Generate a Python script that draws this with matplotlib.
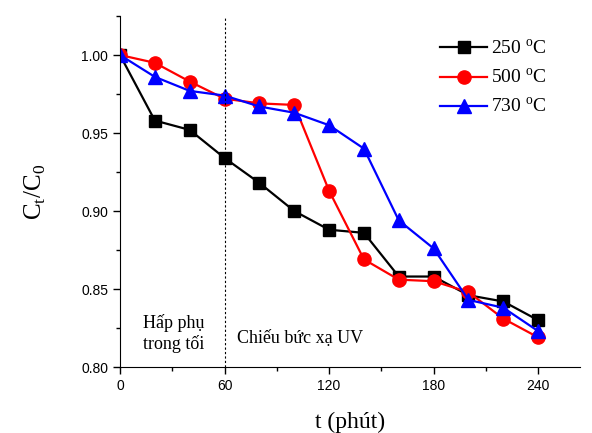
import numpy as np
import matplotlib
matplotlib.use("Agg")
import matplotlib.pyplot as plt
from matplotlib.ticker import MultipleLocator

t = [0, 20, 40, 60, 80, 100, 120, 140, 160, 180, 200, 220, 240]
c_250 = [1.000, 0.958, 0.952, 0.934, 0.918, 0.900, 0.888, 0.886, 0.858, 0.858, 0.846, 0.842, 0.830]
c_500 = [1.000, 0.995, 0.983, 0.972, 0.969, 0.968, 0.913, 0.869, 0.856, 0.855, 0.848, 0.831, 0.819]
c_730 = [1.000, 0.986, 0.977, 0.974, 0.967, 0.963, 0.955, 0.940, 0.894, 0.876, 0.843, 0.838, 0.823]

labels = ["250 $^{\\mathrm{o}}$C", "500 $^{\\mathrm{o}}$C", "730 $^{\\mathrm{o}}$C"]
xticks = [0, 60, 120, 180, 240]
yticks = [0.80, 0.85, 0.90, 0.95, 1.00]

SERIF = "Liberation Serif"
SANS = "Liberation Sans"
plt.rcParams["mathtext.fontset"] = "custom"
plt.rcParams["mathtext.rm"] = SERIF

fig = plt.figure(figsize=(5.92, 4.33), dpi=100)
ax = fig.add_axes([0.2027, 0.1524, 0.777, 0.8106])

ax.plot(t, c_250, color="black", marker="s", markersize=9, lw=1.6, label=labels[0])
ax.plot(t, c_500, color="red", marker="o", markersize=9.5, lw=1.6, label=labels[1])
ax.plot(t, c_730, color="blue", marker="^", markersize=10, lw=1.6, label=labels[2])

# dark adsorption / UV boundary
ax.axvline(60, color="black", ls=(0, (2, 2)), lw=0.8)

ax.set_xlim(0, 264)
ax.set_ylim(0.80, 1.025)
ax.set_xticks(xticks)
ax.set_yticks(yticks)
ax.xaxis.set_minor_locator(MultipleLocator(30))
ax.yaxis.set_minor_locator(MultipleLocator(0.025))
ax.set_yticklabels(["%.2f" % v for v in yticks], fontfamily=SANS, fontsize=10)
ax.set_xticklabels([str(v) for v in xticks], fontfamily=SANS, fontsize=10)
ax.tick_params(which="major", direction="out", length=5, width=1)
ax.tick_params(which="minor", direction="out", length=3, width=1)

for s in ["top", "right"]:
    ax.spines[s].set_visible(False)

ax.set_xlabel("t (phút)", fontfamily=SERIF, fontsize=17, labelpad=14)
ax.set_ylabel("C$_{\\mathrm{t}}$/C$_{\\mathrm{0}}$", fontfamily=SERIF, fontsize=18, labelpad=24)

ax.text(13, 0.8215, "Hấp phụ\ntrong tối", fontfamily=SERIF, fontsize=13, ha="left", va="center",
        linespacing=1.25)
ax.text(67, 0.8185, "Chiếu bức xạ UV", fontfamily=SERIF, fontsize=13, ha="left", va="center")

leg = ax.legend(loc="upper right", bbox_to_anchor=(0.965, 0.985), frameon=False,
                prop={"family": SERIF, "size": 14}, handlelength=2.4, labelspacing=0.5,
                handletextpad=0.2)

fig.savefig("out.png", dpi=100)
